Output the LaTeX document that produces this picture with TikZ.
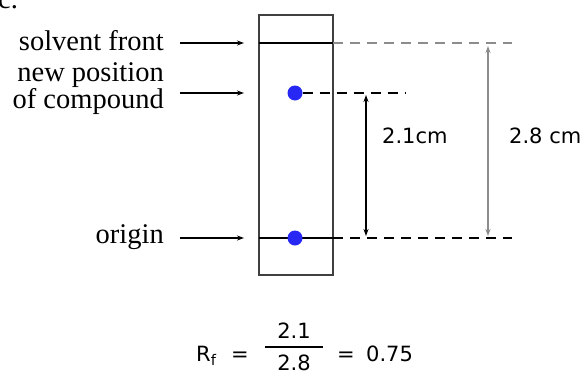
\documentclass[tikz,border=0pt]{standalone}
\usepackage{fontspec}
\setmainfont{Liberation Serif}
\newfontfamily\dimfont{DejaVu Sans}
\usetikzlibrary{arrows.meta, positioning}
\definecolor{spotblue}{RGB}{40,40,245}

\begin{document}
\begin{tikzpicture}[x=1pt, y=-1pt,
  lbl/.style={font=\fontsize{28.5}{24}\selectfont, inner sep=0pt, align=right},
  dim/.style={font=\dimfont\fontsize{21}{24}\selectfont, inner sep=0pt},
  spot/.style={circle, fill=spotblue, minimum size=15pt, inner sep=0pt},
  tip/.style={-{Stealth[length=7pt,width=5pt]}},
  both/.style={{Stealth[length=7pt,width=5pt]}-{Stealth[length=7pt,width=5pt]}},
  guide/.style={dash pattern=on 10pt off 7pt, line width=1.3pt}]
\useasboundingbox (0,0) rectangle (585,375);
% text cut off at the top edge
\node[lbl, anchor=base west] (crop) at (-2,8) {c.};
% plate
\draw[black!75, line width=1.5pt] (259,15) rectangle (333,275);
\coordinate (frontL) at (259,43);
\coordinate (frontR) at (333,43);
\coordinate (newL) at (259,93);
\coordinate (originL) at (259,238);
\coordinate (originR) at (333,238);
\draw[line width=1.3pt] (frontL) -- (frontR);
\draw[line width=1.3pt] (originL) -- (originR);
% spots
\node[spot] (newspot) at (295,93) {};
\node[spot] (oldspot) at (295,238) {};
% labels on the left
\node[lbl, anchor=base east] (frontlbl) at (164,50) {solvent front};
\node[lbl, anchor=east] (newlbl) at (164,89) {new position\\of compound};
\node[lbl, anchor=base east] (originlbl) at (164,243) {origin};
\draw[tip, line width=1.3pt, shorten <=16pt, shorten >=15pt] (frontlbl.east |- frontL) -- (frontL);
\draw[tip, line width=1.3pt, shorten <=16pt, shorten >=15pt] (newlbl.east |- newL) -- (newL);
\draw[tip, line width=1.3pt, shorten <=16pt, shorten >=15pt] (originlbl.east |- originL) -- (originL);
% guide lines
\coordinate (frontE) at (512,43);
\coordinate (newE) at (405,93);
\coordinate (originE) at (512,238);
\draw[guide, black!45] (frontR) -- (frontE);
\draw[guide] (newspot) -- (newE);
\draw[guide] (originR) -- (originE);
% distances
\coordinate (shortT) at (366,95);
\coordinate (shortB) at (366,236);
\coordinate (longT) at (488,46);
\coordinate (longB) at (488,236);
\draw[both, line width=1.3pt] (shortT) -- (shortB);
\draw[both, line width=1.5pt, black!45] (longT) -- (longB);
\node[dim, anchor=base west] (shortlbl) at (382,143) {2.1cm};
\node[dim, anchor=base west] (longlbl) at (509,143) {2.8 cm};
% formula
\node[dim, anchor=base west] (rf) at (196,361) {R\textsubscript{f}};
\node[dim, anchor=base] (eqa) at (240,361) {=};
\node[dim, anchor=base] (num) at (294,338) {2.1};
\node[dim, anchor=base] (den) at (294,370) {2.8};
\draw[line width=1.3pt] (265,347) -- (323,347);
\node[dim, anchor=base] (eqb) at (346,361) {=};
\node[dim, anchor=base west] (val) at (366,361) {0.75};
\end{tikzpicture}
\end{document}
